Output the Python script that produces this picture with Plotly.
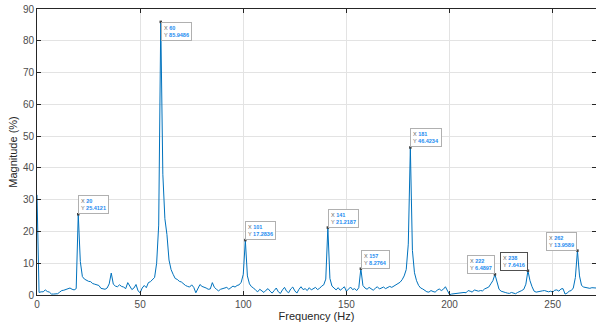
import plotly.graph_objects as go

# Frequency bins (Hz) and magnitude (%)
freq = list(range(0, 272))
mag = [
    31.5, 0.8, 1.0, 1.0, 1.6, 1.1, 0.9, 0.3, 0.3, 0.3,
    0.4, 0.9, 1.4, 1.5, 1.8, 2.1, 2.2, 1.8, 1.6, 2.0,
    25.4121, 10.5, 5.8, 5.0, 4.6, 4.3, 4.2, 3.6, 3.4, 3.3,
    3.0, 2.1, 2.0, 1.8, 2.2, 3.5, 6.9, 3.4, 2.8, 2.6,
    3.2, 2.7, 2.5, 2.0, 3.9, 2.6, 1.7, 2.2, 3.3, 1.3,
    0.7, 2.2, 3.0, 2.3, 3.9, 4.2, 4.7, 5.5, 10.0, 22.0,
    85.9486, 38.0, 24.0, 19.0, 11.0, 8.0, 6.5, 5.2, 4.9, 4.3,
    4.1, 3.4, 3.0, 2.7, 2.5, 3.2, 2.4, 0.7, 2.0, 3.3,
    2.7, 2.5, 2.2, 1.8, 1.9, 3.9, 2.4, 1.8, 1.3, 1.8,
    2.0, 2.1, 2.4, 1.8, 2.2, 2.8, 2.5, 3.0, 3.2, 4.0,
    6.5, 17.2836, 6.0, 3.5, 2.6, 2.2, 1.5, 1.0, 1.8, 1.2,
    0.8, 1.5, 2.0, 1.2, 0.6, 1.4, 2.2, 1.0, 0.5, 1.6,
    2.4, 1.2, 0.7, 1.9, 2.5, 1.3, 0.6, 1.8, 2.6, 1.7,
    2.0, 1.4, 2.3, 1.6, 2.0, 2.4, 1.7, 2.1, 2.8, 3.2,
    5.0, 21.2187, 5.2, 2.8, 2.2, 1.6, 2.3, 1.5, 2.0, 2.6,
    1.2, 1.8, 2.5, 1.7, 2.0, 1.4, 2.3, 8.2764, 3.0, 2.2,
    1.8, 2.4, 2.0, 1.5, 2.1, 2.6, 1.9, 2.2, 2.5, 2.0,
    2.3, 2.7, 2.4, 2.8, 3.0, 3.5, 4.0, 4.8, 6.0, 8.0,
    16.0, 46.4234, 14.0, 7.0, 4.5, 3.0, 2.2, 1.9, 1.4, 1.0,
    0.9, 1.4, 1.1, 0.9, 1.5, 1.9, 1.4, 1.8, 2.6, 1.4,
    0.1, 0.3, 0.4, 0.5, 0.5, 0.6, 0.7, 0.8, 0.7, 1.4,
    1.2, 0.9, 1.6, 1.3, 1.2, 1.4, 1.3, 1.9, 2.2, 2.5,
    3.5, 4.5, 6.4897, 4.0, 1.8, 1.2, 0.9, 0.8, 0.6, 0.5,
    0.8, 0.6, 0.4, 0.8, 1.0, 1.4, 1.8, 3.4, 7.6416, 4.5,
    2.6, 1.2, 0.9, 1.1, 1.2, 1.3, 1.4, 1.3, 1.0, 1.2,
    0.9, 1.5, 1.6, 1.2, 1.9, 2.0, 0.3, 0.6, 1.2, 1.4,
    2.2, 5.5, 13.9589, 6.0, 3.0, 2.5, 2.4, 2.2, 2.1, 2.3,
    2.2, 2.2,
]

# Data tips: frequency, shown value, box placement
tip_x = [20, 60, 101, 141, 157, 181, 222, 238, 262]
tip_y = ["25.4121", "85.9486", "17.2836", "21.2187", "8.2764", "46.4234", "6.4897", "7.6416", "13.9589"]
tip_xanchor = ["left", "left", "left", "left", "left", "left", "right", "right", "right"]
tip_yanchor = ["bottom", "top", "bottom", "bottom", "bottom", "bottom", "bottom", "bottom", "bottom"]

x_ticks = [0, 50, 100, 150, 200, 250]
y_ticks = [0, 10, 20, 30, 40, 50, 60, 70, 80, 90]

fig = go.Figure()
fig.add_trace(go.Scatter(x=freq, y=mag, mode="lines",
                         line=dict(color="#0072BD", width=1),
                         hoverinfo="skip", showlegend=False))
fig.add_trace(go.Scatter(x=tip_x, y=[mag[f] for f in tip_x], mode="markers",
                         marker=dict(size=2.5, color="#404040", symbol="square"),
                         hoverinfo="skip", showlegend=False))

for fx, ty, xa, ya in zip(tip_x, tip_y, tip_xanchor, tip_yanchor):
    sel = fx == 238
    fig.add_annotation(
        x=fx, y=mag[fx], xref="x", yref="y", showarrow=False,
        xanchor=xa, yanchor=ya, align="left",
        text=(f"<span style='color:#666666'>X</span> <b style='color:#1E8CF0'>{fx}</b><br>"
              f"<span style='color:#666666'>Y</span> <b style='color:#1E8CF0'>{ty}</b>"),
        font=dict(family="Liberation Sans, Arial", size=5.5),
        bgcolor="white",
        bordercolor="#505050" if sel else "#B0B0B0",
        borderwidth=1, borderpad=2,
    )

axis_common = dict(
    showline=True, linecolor="#262626", linewidth=1, mirror="ticks",
    ticks="inside", ticklen=4, tickcolor="#262626", tickwidth=1,
    showgrid=True, gridcolor="#E3E3E3", gridwidth=1, zeroline=False,
    tickfont=dict(family="Liberation Sans, Arial", size=10, color="#4D4D4D"),
)

fig.update_xaxes(range=[0, 271], tickvals=x_ticks,
                 title=dict(text="Frequency (Hz)", standoff=3,
                            font=dict(family="Liberation Sans, Arial", size=11, color="#262626")),
                 **axis_common)
fig.update_yaxes(range=[0, 90], tickvals=y_ticks,
                 title=dict(text="Magnitude (%)", standoff=3,
                            font=dict(family="Liberation Sans, Arial", size=11, color="#262626")),
                 **axis_common)

fig.update_layout(width=596, height=325, margin=dict(l=37, r=0, t=9, b=30),
                  paper_bgcolor="white", plot_bgcolor="white")

fig.write_html("out.html")
